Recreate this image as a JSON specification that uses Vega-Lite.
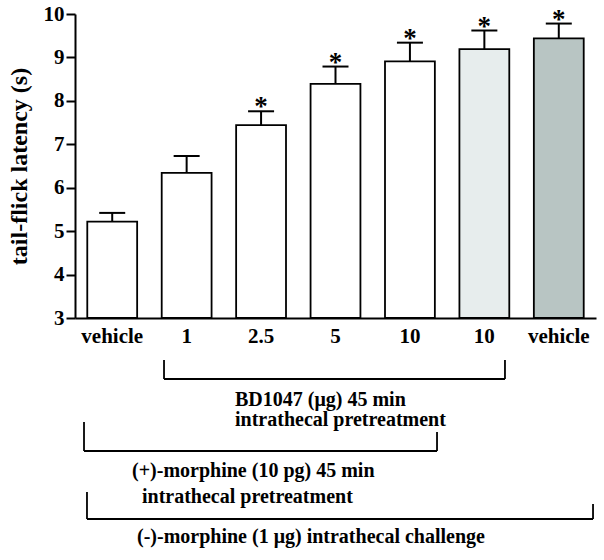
{
  "$schema": "https://vega.github.io/schema/vega-lite/v6.json",
  "width": 521,
  "height": 304,
  "autosize": {"type": "none"},
  "padding": {"left": 75, "top": 14, "right": 8, "bottom": 242},
  "background": "white",
  "config": {
    "view": {"stroke": null},
    "font": "Liberation Serif",
    "axis": {
      "grid": false,
      "domainColor": "black",
      "tickColor": "black",
      "labelColor": "black",
      "titleColor": "black",
      "labelFont": "Liberation Serif",
      "titleFont": "Liberation Serif",
      "labelFontWeight": "bold",
      "titleFontWeight": "bold"
    }
  },
  "datasets": {
    "bars": [
      {"dose": "vehicle", "latency": 5.22, "upper": 5.42, "group": "plain", "star": ""},
      {"dose": "1", "latency": 6.34, "upper": 6.73, "group": "plain", "star": ""},
      {"dose": "2.5", "latency": 7.44, "upper": 7.76, "group": "plain", "star": "*"},
      {"dose": "5", "latency": 8.39, "upper": 8.79, "group": "plain", "star": "*"},
      {"dose": "10", "latency": 8.91, "upper": 9.34, "group": "plain", "star": "*"},
      {"dose": " 10 ", "latency": 9.19, "upper": 9.62, "group": "light", "star": "*"},
      {"dose": " vehicle ", "latency": 9.44, "upper": 9.78, "group": "dark", "star": "*"}
    ],
    "segments": [
      {"x": 0.696, "x2": 0.696, "y": 2.033, "y2": 1.595},
      {"x": 5.277, "x2": 5.277, "y": 2.033, "y2": 1.595},
      {"x": 0.696, "x2": 5.277, "y": 1.595, "y2": 1.595},
      {"x": -0.379, "x2": -0.379, "y": 0.605, "y2": -0.062},
      {"x": 4.364, "x2": 4.364, "y": 0.375, "y2": -0.062},
      {"x": -0.379, "x2": 4.364, "y": -0.062, "y2": -0.062},
      {"x": -0.339, "x2": -0.339, "y": -1.006, "y2": -1.628},
      {"x": 6.46, "x2": 6.46, "y": -1.283, "y2": -1.628},
      {"x": -0.339, "x2": 6.46, "y": -1.628, "y2": -1.628}
    ],
    "labels": [
      {"x": 1.65, "y": 0.985, "label": "BD1047 (μg) 45 min"},
      {"x": 1.65, "y": 0.513, "label": "intrathecal pretreatment"},
      {"x": 0.266, "y": -0.661, "label": "(+)-morphine (10 pg) 45 min"},
      {"x": 0.4, "y": -1.26, "label": "intrathecal pretreatment"},
      {"x": 0.333, "y": -2.181, "label": "(-)-morphine (1 μg) intrathecal challenge"}
    ]
  },
  "layer": [
    {
      "data": {"name": "bars"},
      "encoding": {
        "x": {
          "field": "dose",
          "type": "nominal",
          "sort": null,
          "scale": {"paddingInner": 0.33, "paddingOuter": 0.165},
          "axis": {
            "title": null,
            "labelAngle": 0,
            "ticks": false,
            "labelFontSize": 21,
            "labelPadding": 7,
            "domainWidth": 2
          }
        }
      },
      "layer": [
        {
          "mark": {"type": "bar", "stroke": "black", "strokeWidth": 1.8},
          "encoding": {
            "y": {
              "field": "latency",
              "type": "quantitative",
              "scale": {"domain": [3, 10], "nice": false, "zero": false},
              "axis": {
                "title": "tail-flick latency (s)",
                "values": [3, 4, 5, 6, 7, 8, 9, 10],
                "tickSize": 9,
                "tickWidth": 2,
                "domainWidth": 2,
                "labelFontSize": 21,
                "labelPadding": 2,
                "titleFontSize": 24,
                "titlePadding": 12
              }
            },
            "y2": {"datum": 3},
            "fill": {
              "field": "group",
              "type": "nominal",
              "scale": {"domain": ["plain", "light", "dark"], "range": ["#ffffff", "#e7eded", "#b8c5c3"]},
              "legend": null
            }
          }
        },
        {
          "mark": {"type": "rule", "color": "black", "strokeWidth": 2},
          "encoding": {
            "y": {"field": "latency", "type": "quantitative", "scale": {"domain": [3, 10], "nice": false, "zero": false}},
            "y2": {"field": "upper"}
          }
        },
        {
          "mark": {"type": "tick", "color": "black", "size": 26, "thickness": 2, "opacity": 1},
          "encoding": {
            "y": {"field": "upper", "type": "quantitative", "scale": {"domain": [3, 10], "nice": false, "zero": false}}
          }
        },
        {
          "mark": {"type": "text", "fontSize": 27, "fontWeight": "bold", "baseline": "alphabetic", "dy": 4, "color": "black", "font": "Liberation Serif"},
          "encoding": {
            "y": {"field": "upper", "type": "quantitative", "scale": {"domain": [3, 10], "nice": false, "zero": false}},
            "text": {"field": "star"}
          }
        }
      ]
    },
    {
      "layer": [
        {
          "data": {"name": "segments"},
          "mark": {"type": "rule", "color": "black", "strokeWidth": 1.8},
          "encoding": {
            "x": {"field": "x", "type": "quantitative", "scale": {"domain": [-0.5, 6.5], "nice": false, "zero": false}, "axis": null},
            "x2": {"field": "x2"},
            "y": {"field": "y", "type": "quantitative", "scale": {"domain": [3, 10], "nice": false, "zero": false}},
            "y2": {"field": "y2"}
          }
        },
        {
          "data": {"name": "labels"},
          "mark": {"type": "text", "align": "left", "baseline": "alphabetic", "fontSize": 20, "fontWeight": "bold", "color": "black", "font": "Liberation Serif"},
          "encoding": {
            "x": {"field": "x", "type": "quantitative", "scale": {"domain": [-0.5, 6.5], "nice": false, "zero": false}, "axis": null},
            "y": {"field": "y", "type": "quantitative", "scale": {"domain": [3, 10], "nice": false, "zero": false}},
            "text": {"field": "label"}
          }
        }
      ]
    }
  ],
  "resolve": {"scale": {"x": "independent"}, "axis": {"x": "independent"}}
}
